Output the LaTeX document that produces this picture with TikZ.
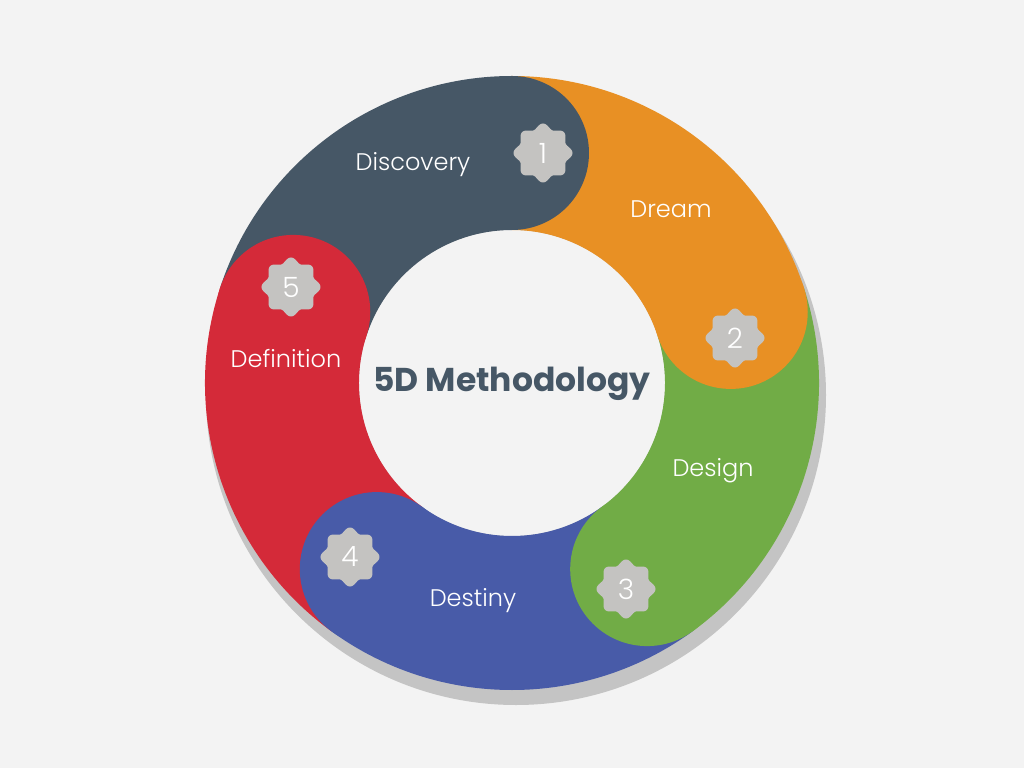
\documentclass[tikz,border=0pt]{standalone}
\usepackage{fontspec}
\setmainfont{Poppins}
\newfontfamily\lightfont{Poppins Light}
\definecolor{bggray}{HTML}{F3F3F3}
\definecolor{shadowgray}{HTML}{C4C4C4}
\definecolor{sealgray}{HTML}{C4C3C1}
\definecolor{slate}{HTML}{465766}
\definecolor{orange}{HTML}{E89024}
\definecolor{green}{HTML}{71AC46}
\definecolor{blue}{HTML}{485BA8}
\definecolor{red}{HTML}{D42A39}
\begin{document}
\begin{tikzpicture}[x=1pt, y=1pt,
    lbl/.style={text=white, font=\lightfont\fontsize{24}{28}\selectfont},
    num/.style={text=white, font=\lightfont\fontsize{28}{32}\selectfont},
    seal/.style={fill=sealgray}]
    \fill[bggray] (-512,-385) rectangle (512,383);
    \fill[shadowgray] (4,-12) circle[radius=310pt];
    \fill[bggray] (0,0) circle[radius=153pt];
    \foreach \a/\b/\c in {162/90/slate, 90/18/orange, 18/-54/green, -54/-126/blue, -126/-198/red}
        \fill[\c] (\a:307pt) arc[start angle=\a, end angle=\b, radius=307pt]
            -- (\b:153pt) arc[start angle=\b, end angle=\a, radius=153pt] -- cycle;
    \foreach \b/\c in {90/slate, 18/orange, -54/green, -126/blue, -198/red}
        \fill[\c] (\b:230pt) circle[radius=77pt];
    \foreach \n/\x/\y in {1/31/230, 2/223/45, 3/114/-206, 4/-162/-174, 5/-221/96}{
        \fill[seal] plot[domain=0:360, samples=145, variable=\t]
            ({\x+(27+2.5*cos(8*\t))*cos(\t)}, {\y+(27+2.5*cos(8*\t))*sin(\t)}) -- cycle;
        \node[num] (n\n) at (\x,\y) {\n};
    }
    \node[lbl] (discovery) at (-99,218) {Discovery};
    \node[lbl] (dream) at (159,174) {Dream};
    \node[lbl] (design) at (201,-88) {Design};
    \node[lbl] (destiny) at (-39,-218) {Destiny};
    \node[lbl] (definition) at (-226,24) {Definition};
    \node[text=slate, font=\fontsize{33}{38}\selectfont\bfseries] (title) at (0,-1) {5D Methodology};
\end{tikzpicture}
\end{document}
